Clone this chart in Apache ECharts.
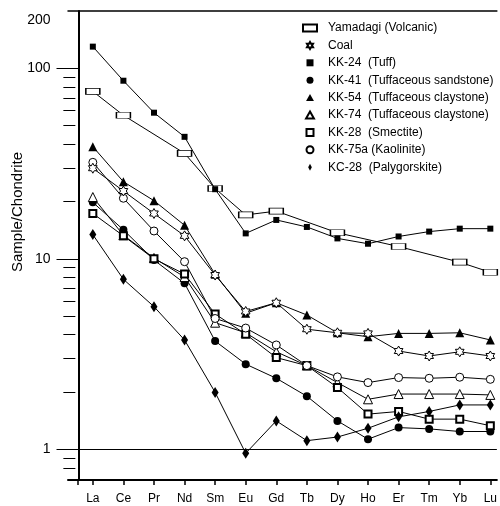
<!DOCTYPE html>
<html>
<head>
<meta charset="utf-8">
<script src="https://cdn.jsdelivr.net/npm/echarts@6/dist/echarts.min.js"></script>
<style>
    html, body {margin: 0; padding: 0; background: #fff;}
    #main {width: 500px; height: 506px;}
</style>
</head>
<body>
<div id="main"></div>
<script>
// REE pattern, chondrite normalised
var elements = ['La', 'Ce', 'Pr', 'Nd', 'Sm', 'Eu', 'Gd', 'Tb', 'Dy', 'Ho', 'Er', 'Tm', 'Yb', 'Lu'];

var yamadagi = [75.7, 56.7, null, 35.8, 23.4, 17.0, 17.8, null, 13.7, null, 11.6, null, 9.6, 8.5];
var coal = [29.9, 22.7, 17.3, 13.2, 8.22, 5.29, 5.88, 4.27, 4.09, 4.06, 3.28, 3.09, 3.25, 3.09];
var kk24 = [130, 86.1, 58.5, 43.7, 23.2, 13.6, 16.0, 14.7, 12.8, 12.0, 13.1, 13.9, 14.4, 14.4];
var kk41 = [19.8, 14.2, 9.86, 7.44, 3.70, 2.80, 2.36, 1.90, 1.41, 1.13, 1.30, 1.28, 1.24, 1.24];
var kk54 = [38.8, 25.4, 20.2, 15.0, 8.3, 5.18, 5.88, 5.07, 4.09, 3.90, 4.06, 4.06, 4.09, 3.75];
var kk74 = [21.1, 13.3, 10.1, 8.03, 4.62, 4.09, 3.25, 2.75, 2.24, 1.83, 1.95, 1.95, 1.95, 1.93];
var kk28 = [17.3, 13.2, 10.0, 8.32, 5.13, 4.02, 3.03, 2.75, 2.11, 1.53, 1.58, 1.44, 1.44, 1.33];
var kk75a = [32.1, 20.8, 14.0, 9.66, 4.86, 4.33, 3.53, 2.75, 2.40, 2.24, 2.38, 2.36, 2.39, 2.33];
var kc28 = [13.4, 7.81, 5.61, 3.75, 1.99, 0.953, 1.41, 1.11, 1.16, 1.29, 1.48, 1.58, 1.71, 1.71];

var y_major = [1, 10, 100];
var y_labels = [1, 10, 100, 200];
var y_minor = [0.8, 0.9, 2, 3, 4, 5, 6, 7, 8, 9, 20, 30, 40, 50, 60, 70, 80, 90];

var FONT = 'Liberation Sans, Arial, sans-serif';
var STAR = 'path://M0,-5L1.443,-2.5L4.33,-2.5L2.887,0L4.33,2.5L1.443,2.5L0,5L-1.443,2.5L-4.33,2.5L-2.887,0L-4.33,-2.5L-1.443,-2.5Z';
// legend icons, scaled into the legend box keeping aspect
var ICONS = {
    rect: 'path://M0,0H12V6H0Z',
    star: STAR,
    square: 'path://M0,0H6V6H0Z',
    circle: 'circle',
    triangle: 'path://M0,-4.5L4.5,3.5H-4.5Z',
    diamond: 'path://M0,-5L2.6,0L0,5L-2.6,0Z'
};

var CHART = {
    list: [
        {name: 'Yamadagi (Volcanic)', data: yamadagi, symbol: 'rect', size: [14, 6], fill: '#fff', bw: 1, icon: 'rect'},
        {name: 'Coal', data: coal, symbol: STAR, size: 10, fill: '#fff', bw: 1, icon: 'star'},
        {name: 'KK-24  (Tuff)', data: kk24, symbol: 'rect', size: 6, fill: '#000', bw: 0, icon: 'square'},
        {name: 'KK-41  (Tuffaceous sandstone)', data: kk41, symbol: 'circle', size: 8, fill: '#000', bw: 0, icon: 'circle'},
        {name: 'KK-54  (Tuffaceous claystone)', data: kk54, symbol: 'triangle', size: 9, fill: '#000', bw: 0, icon: 'triangle'},
        {name: 'KK-74  (Tuffaceous claystone)', data: kk74, symbol: 'triangle', size: 9, fill: '#fff', bw: 1, icon: 'triangle'},
        {name: 'KK-28  (Smectite)', data: kk28, symbol: 'rect', size: 7, fill: '#fff', bw: 2, icon: 'square'},
        {name: 'KK-75a (Kaolinite)', data: kk75a, symbol: 'circle', size: 8, fill: '#fff', bw: 1, icon: 'circle'},
        {name: 'KC-28  (Palygorskite)', data: kc28, symbol: 'diamond', size: [7, 11], fill: '#000', bw: 0, icon: 'diamond'}
    ],
    init: function(){
        var _this = this;
        var myChart = echarts.init(document.getElementById('main'), null, {renderer: 'canvas'});
        myChart.setOption(_this.init_option());
    },
    to_points: function(values){
        var points = [];
        for (var i = 0; i < values.length; i++){
            if (values[i] != null) points.push([i, values[i]]);
        }
        return points;
    },
    build_series: function(){
        var _this = this;
        var series = [];
        _this.list.forEach(function(s, i){
            var item = {
                name: s.name,
                type: 'line',
                data: _this.to_points(s.data),
                symbol: s.symbol,
                symbolSize: s.size,
                symbolKeepAspect: true,
                showAllSymbol: true,
                animation: false,
                lineStyle: {color: '#000', width: 1},
                itemStyle: {color: s.fill, borderColor: '#000', borderWidth: s.bw},
                emphasis: {disabled: true},
                z: 2 + i
            };
            if (i == 0){
                item.markLine = {
                    silent: true,
                    symbol: 'none',
                    label: {show: false},
                    lineStyle: {color: '#000', type: 'solid', width: 1},
                    data: [{yAxis: 1}]
                };
            }
            series.push(item);
        });
        // coal stars sit over the KK-54 triangles
        series[1].z = 20;
        return series;
    },
    init_option: function(){
        var _this = this;
        var legend_data = _this.list.map(function(s){
            return {name: s.name, icon: ICONS[s.icon]};
        });
        var x_ticks = elements.map(function(e, i){ return i; });
        var x_min = -0.812, x_max = 13.214;
        var option = {
            animation: false,
            backgroundColor: '#fff',
            textStyle: {fontFamily: FONT},
            grid: {left: 68, right: 0, top: 11, bottom: 26, containLabel: false},
            legend: {
                orient: 'vertical',
                left: 302,
                top: 22,
                padding: 0,
                itemWidth: 26,
                itemHeight: 7,
                itemGap: 5.4,
                symbolKeepAspect: true,
                selectedMode: false,
                textStyle: {fontFamily: FONT, fontSize: 12, color: '#000'},
                data: legend_data
            },
            xAxis: [
                {
                    type: 'value',
                    min: x_min,
                    max: x_max,
                    axisLine: {onZero: false, lineStyle: {color: '#000', width: 2}},
                    axisTick: {length: 5, lineStyle: {color: '#000', width: 1.5}, customValues: [-0.48].concat(x_ticks)},
                    axisLabel: {
                        customValues: x_ticks,
                        margin: 13,
                        fontSize: 12,
                        fontFamily: FONT,
                        color: '#000',
                        formatter: function(v){ return elements[Math.round(v)]; }
                    },
                    splitLine: {show: false}
                },
                {
                    type: 'value',
                    position: 'top',
                    min: x_min,
                    max: x_max,
                    axisLine: {onZero: false, lineStyle: {color: '#000', width: 1.5}},
                    axisTick: {show: false},
                    axisLabel: {show: false},
                    splitLine: {show: false}
                }
            ],
            yAxis: [
                {
                    type: 'log',
                    logBase: 10,
                    position: 'left',
                    min: 0.69,
                    max: 200,
                    offset: -10.5,
                    axisLine: {onZero: false, lineStyle: {color: '#000', width: 2}},
                    axisTick: {length: 22, lineStyle: {color: '#000', width: 1}, customValues: y_major},
                    axisLabel: {
                        customValues: y_labels,
                        margin: 28,
                        fontSize: 14,
                        fontFamily: FONT,
                        color: '#000',
                        formatter: function(v){
                            if (v > 150) return '{top|200}';
                            return String(v);
                        },
                        rich: {top: {fontSize: 14, fontFamily: FONT, color: '#000', padding: [19, 0, 0, 0]}}
                    },
                    splitLine: {show: false}
                },
                {
                    // minor ticks: second axis sits on the right, pulled back onto the left axis line
                    type: 'log',
                    logBase: 10,
                    position: 'right',
                    min: 0.69,
                    max: 200,
                    offset: -421.5,
                    axisLine: {show: false, onZero: false},
                    axisTick: {inside: true, length: 12, lineStyle: {color: '#000', width: 1}, customValues: y_minor},
                    axisLabel: {show: false},
                    splitLine: {show: false}
                }
            ],
            graphic: [{
                type: 'text',
                x: 18,
                y: 212,
                rotation: Math.PI / 2,
                style: {
                    text: 'Sample/Chondrite',
                    fontSize: 15,
                    fontFamily: FONT,
                    fill: '#000',
                    align: 'center',
                    verticalAlign: 'middle'
                }
            }],
            series: _this.build_series()
        };
        return option;
    }
};

CHART.init();
</script>
</body>
</html>
